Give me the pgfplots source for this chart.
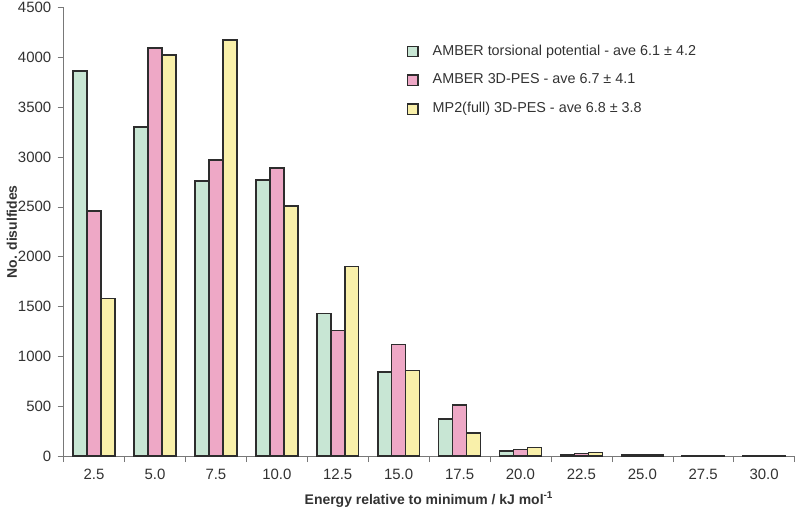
\documentclass[border=0pt]{standalone}
\usepackage{pgfplots}
\pgfplotsset{compat=1.18}
\usepackage{fontspec}
\setmainfont{Liberation Sans}
\definecolor{cgreen}{RGB}{200,230,212}
\definecolor{cpink}{RGB}{238,168,198}
\definecolor{cyellow}{RGB}{249,240,170}
\definecolor{cedge}{RGB}{45,45,45}
\definecolor{caxis}{RGB}{120,120,120}
\definecolor{ctext}{RGB}{50,50,50}
\begin{document}
\begin{tikzpicture}
\begin{axis}[
  scale only axis,
  width=366.5pt, height=225pt,
  ybar=0pt, bar width=7pt,
  xmin=-0.5, xmax=11.5,
  ymin=0, ymax=4500,
  xtick={0,...,11},
  xticklabels={2.5,5.0,7.5,10.0,12.5,15.0,17.5,20.0,22.5,25.0,27.5,30.0},
  minor xtick={-0.5,0.5,...,11.5},
  major x tick style={draw=none},
  minor x tick style={draw=caxis},
  ytick={0,500,...,4500},
  tick align=outside,
  major tick length=3pt,
  minor tick length=3pt,
  axis lines*=left,
  axis line style={draw=caxis, -},
  y tick style={draw=caxis},
  tick label style={font=\fontsize{7.5}{9}\selectfont, text=ctext},
  yticklabel style={inner sep=1pt, xshift=-2pt},
  /pgf/number format/assume math mode=true,
  /pgf/number format/1000 sep={},
  scaled y ticks=false,
  xlabel={\bfseries Energy relative to minimum / kJ mol\textsuperscript{-1}},
  ylabel={\bfseries No. disulfides},
  label style={font=\fontsize{7}{8}\selectfont, text=ctext},
  xlabel style={yshift=1pt},
  ylabel style={yshift=-4pt},
  legend style={at={(0.461,0.935)}, anchor=north west, draw=none, fill=none,
    font=\fontsize{7.2}{9}\selectfont, text=ctext, row sep=3.8pt,
    /tikz/every odd column/.append style={column sep=5pt}},
  legend cell align=left,
  legend image code/.code={\draw[#1, draw=cedge, line width=0.7pt] (0pt,-2.6pt) rectangle (5.2pt,2.6pt);},
  every axis plot/.append style={draw=cedge, line width=0.8pt},
]
\addplot[fill=cgreen] coordinates {(0,3860) (1,3300) (2,2760) (3,2770) (4,1430) (5,840) (6,370) (7,50) (8,15) (9,8) (10,3) (11,2)};
\addplot[fill=cpink] coordinates {(0,2460) (1,4090) (2,2970) (3,2890) (4,1260) (5,1120) (6,510) (7,65) (8,25) (9,12) (10,5) (11,3)};
\addplot[fill=cyellow] coordinates {(0,1580) (1,4020) (2,4170) (3,2510) (4,1900) (5,860) (6,230) (7,85) (8,35) (9,10) (10,5) (11,2)};
\legend{AMBER torsional potential - ave 6.1 ± 4.2, AMBER 3D-PES - ave 6.7 ± 4.1, MP2(full) 3D-PES - ave 6.8 ± 3.8}
\end{axis}
\end{tikzpicture}
\end{document}
